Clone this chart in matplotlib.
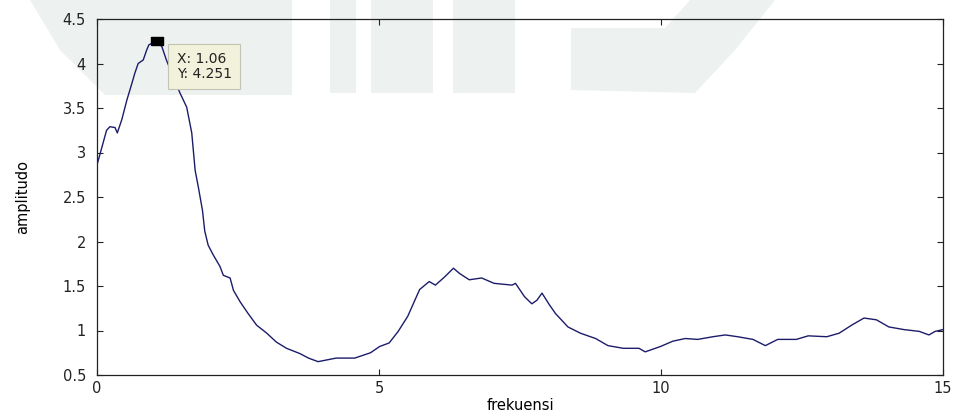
import matplotlib
matplotlib.use("Agg")
import matplotlib.pyplot as plt
from matplotlib.patches import Polygon

plt.rcParams['font.family'] = ['DejaVu Sans']

# spectrum amplitude vs frequency
frek = [0, 0.17, 0.23, 0.32, 0.36, 0.44, 0.53, 0.62, 0.67, 0.73,
        0.82, 0.88, 0.92, 1.06, 1.15, 1.23, 1.35, 1.47, 1.53, 1.59,
        1.68, 1.74, 1.80, 1.87, 1.91, 1.97, 2.06, 2.18, 2.24, 2.36,
        2.42, 2.54, 2.68, 2.83, 3.01, 3.18, 3.36, 3.60, 3.75, 3.92,
        4.24, 4.57, 4.85, 5.01, 5.18, 5.34, 5.51, 5.72, 5.89, 6.00,
        6.16, 6.32, 6.43, 6.60, 6.82, 7.04, 7.36, 7.42, 7.58, 7.71,
        7.80, 7.89, 8.02, 8.13, 8.35, 8.57, 8.84, 9.06, 9.33, 9.61,
        9.72, 9.99, 10.21, 10.43, 10.65, 10.92, 11.14, 11.36, 11.63, 11.85,
        12.07, 12.40, 12.61, 12.94, 13.16, 13.38, 13.60, 13.82, 14.04, 14.31,
        14.58, 14.75, 14.86, 15.0]
amp = [2.86, 3.25, 3.29, 3.28, 3.22, 3.37, 3.59, 3.78, 3.89, 4.00,
       4.04, 4.15, 4.21, 4.251, 4.19, 4.04, 3.85, 3.67, 3.59, 3.51,
       3.22, 2.80, 2.60, 2.35, 2.12, 1.96, 1.85, 1.72, 1.62, 1.59,
       1.45, 1.32, 1.19, 1.06, 0.97, 0.87, 0.80, 0.74, 0.69, 0.65,
       0.69, 0.69, 0.75, 0.82, 0.86, 0.99, 1.16, 1.46, 1.55, 1.51,
       1.60, 1.70, 1.64, 1.57, 1.59, 1.53, 1.51, 1.53, 1.38, 1.30,
       1.34, 1.42, 1.29, 1.19, 1.04, 0.97, 0.91, 0.83, 0.80, 0.80,
       0.76, 0.82, 0.88, 0.91, 0.90, 0.93, 0.95, 0.93, 0.90, 0.83,
       0.90, 0.90, 0.94, 0.93, 0.97, 1.06, 1.14, 1.12, 1.04, 1.01,
       0.99, 0.95, 0.99, 1.01]

tip_x = 1.06
tip_y = 4.251

xticks = [0, 5, 10, 15]
yticks = [0.5, 1, 1.5, 2, 2.5, 3, 3.5, 4, 4.5]

W, H = 966, 417
fig = plt.figure(figsize=(W / 100, H / 100), dpi=100)
fig.patch.set_facecolor('white')

# faint logo shapes in the background (pixel coords, y from top)
wm = '#edf1ef'
shapes = [
    [(30, 0), (292, 0), (292, 95), (105, 95), (60, 50)],
    [(330, 0), (356, 0), (356, 93), (330, 93)],
    [(371, 0), (433, 0), (433, 93), (371, 93)],
    [(453, 0), (515, 0), (515, 93), (453, 93)],
    [(571, 28), (665, 28), (690, 0), (775, 0), (735, 50), (695, 93), (571, 90)],
]
for s in shapes:
    pts = [(px / W, 1 - py / H) for px, py in s]
    fig.patches.append(Polygon(pts, closed=True, transform=fig.transFigure,
                               facecolor=wm, edgecolor='none', zorder=-5))

ax = fig.add_axes([97 / W, 1 - 375 / H, 846 / W, 356 / H])
ax.set_facecolor('none')
ax.set_zorder(2)

ax.plot(frek, amp, color='#1c1c6a', linewidth=1.0)

# data tip: flat black rectangle marker + yellow label box
rect = [(-1.7, -1), (1.7, -1), (1.7, 1), (-1.7, 1), (-1.7, -1)]
ax.plot([tip_x], [tip_y], marker=rect, markersize=9, color='black',
        markeredgecolor='black', linestyle='none')
ax.annotate('X: %.2f\nY: %.3f' % (tip_x, tip_y), xy=(tip_x, tip_y),
            xytext=(20, -11), textcoords='offset pixels', ha='left', va='top',
            fontsize=10, color='#222222', linespacing=1.05,
            bbox=dict(boxstyle='square,pad=0.6', facecolor='#f1f1dc',
                      edgecolor='#c4c4b6', linewidth=0.8))

ax.set_xlim(0, 15)
ax.set_ylim(0.5, 4.5)
ax.set_xticks(xticks)
ax.set_yticks(yticks)
ax.set_xticklabels([str(t) for t in xticks])
ax.set_yticklabels(['%g' % t for t in yticks])
ax.tick_params(direction='in', length=4, width=0.8, top=True, right=True,
               labelsize=10.5, colors='#222222')
ax.tick_params(axis='y', pad=8)
ax.tick_params(axis='x', pad=4)
for sp in ax.spines.values():
    sp.set_linewidth(0.9)
    sp.set_color('#222222')

ax.set_xlabel('frekuensi', fontsize=10.5, labelpad=2)
ax.set_ylabel('amplitudo', fontsize=10.5, labelpad=23)

fig.savefig('out.png', dpi=100)
